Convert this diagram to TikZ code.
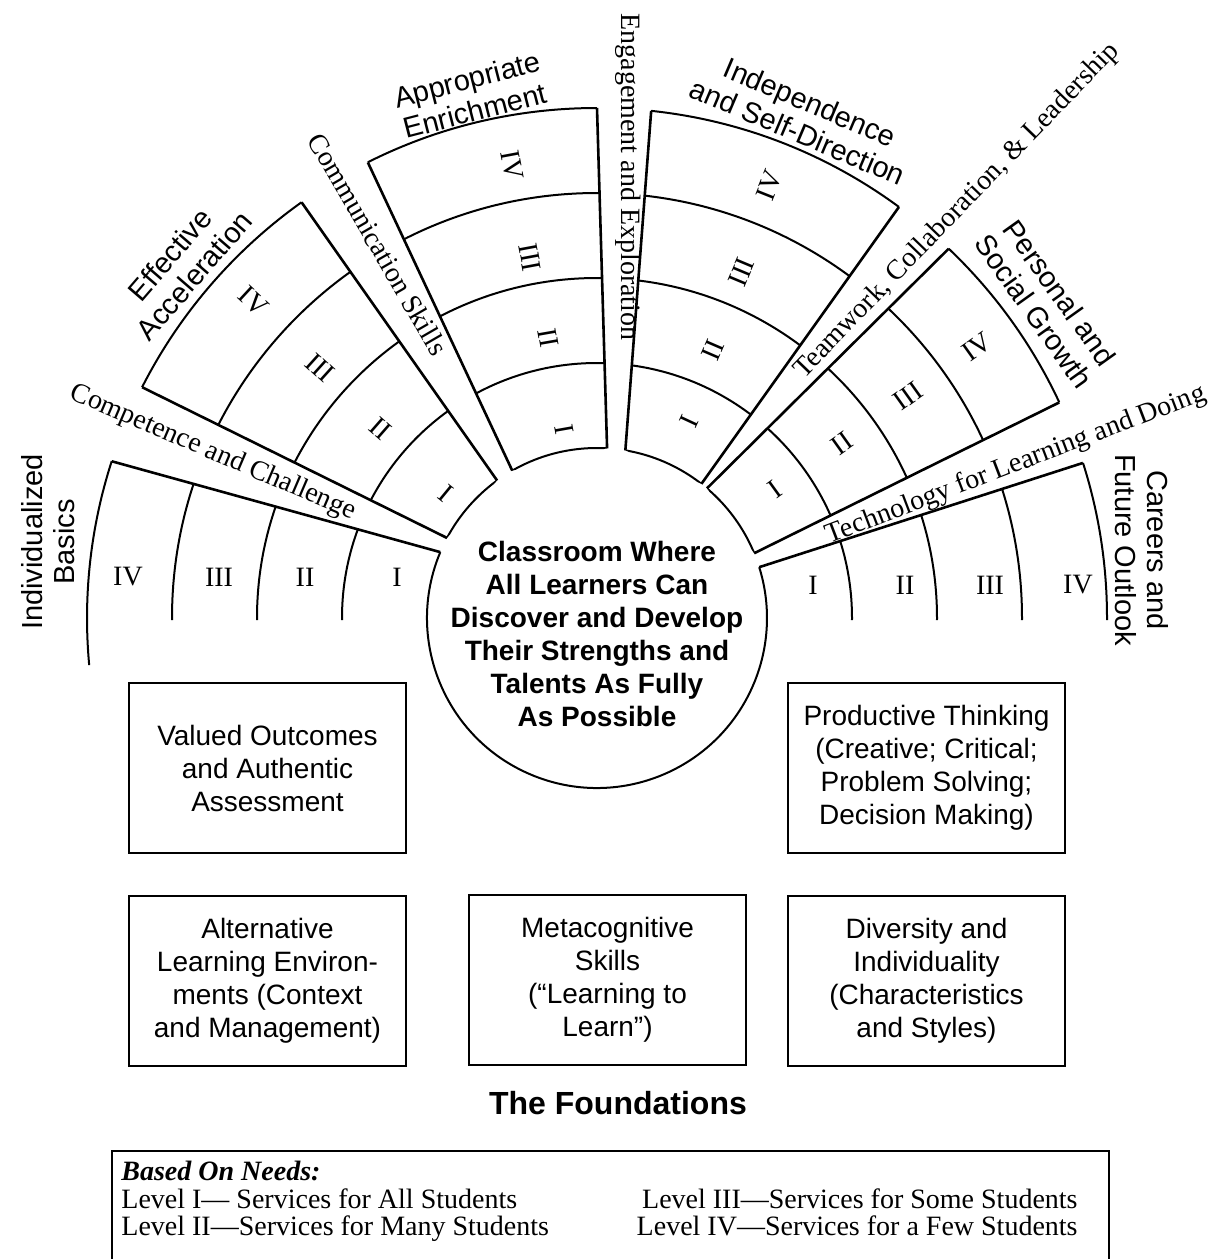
\documentclass[tikz,border=0pt]{standalone}
\usepackage{fontspec}
\setmainfont{Liberation Serif}
\setsansfont{Liberation Sans}
\usetikzlibrary{calc}
\tikzset{
 fanedge/.style={line width=1.3pt},
 ring/.style={line width=1pt},
 rom/.style={font=\fontsize{14}{14}\selectfont, inner sep=0pt},
 gaplbl/.style={font=\fontsize{14}{14}\selectfont, inner sep=0pt},
 ttl/.style={font=\sffamily\fontsize{14.5}{16}\selectfont, align=center, inner sep=0pt},
 foundbox/.style={draw, line width=1pt, minimum width=138.5pt, minimum height=85pt, align=center, font=\sffamily\fontsize{14}{16.5}\selectfont, inner sep=0pt},
 legend/.style={font=\fontsize{14}{14}\selectfont, inner sep=0pt},
}
\newcommand\fansector[4]{%
 \begin{scope}
  \coordinate (sa) at ($(C)+(#1:170)$);
  \coordinate (sb) at ($(C)+(#2:510)$);
  \coordinate (sc) at ($(C)+(#4:510)$);
  \coordinate (sd) at ($(C)+(#3:170)$);
  \clip (sa) -- ($(sa)!1.6!(sb)$) -- ($(sd)!1.6!(sc)$) -- (sd) -- cycle;
  \foreach \rr in {170,255,340,425,510} \draw[ring] (C) circle[radius=\rr];
 \end{scope}
 \draw[fanedge] ($(C)+(#1:170)$) -- ($(C)+(#2:510)$);
 \draw[fanedge] ($(C)+(#3:170)$) -- ($(C)+(#4:510)$);
}
\begin{document}
\begin{tikzpicture}[x=0.5pt,y=0.5pt]
\useasboundingbox (0,0) rectangle (1208,-1259);
\coordinate (C) at (597,-618);

% central circle (lower part) 
\draw[ring] ($(C)+(157.2:170)$) arc[start angle=157.2, end angle=377.4, radius=170];

% left sector: Individualized Basics
\begin{scope}
 \coordinate (la) at ($(C)+(157.2:170)$);
 \coordinate (lb) at ($(C)+(162.1:510)$);
 \clip (la) -- ($(la)!1.6!(lb)$) -- (-200,-620) -- (597,-620) -- cycle;
 \foreach \rr in {255,340,425} \draw[ring] (C) circle[radius=\rr];
\end{scope}
\draw[ring] ($(C)+(162.1:510)$) arc[start angle=162.1, end angle=185.3, radius=510];
\draw[fanedge] (la) -- (lb);

% right sector: Careers
\begin{scope}
 \coordinate (ra) at ($(C)+(17.4:170)$);
 \coordinate (rb) at ($(C)+(17.7:510)$);
 \clip (ra) -- ($(ra)!1.6!(rb)$) -- (1500,-620) -- (597,-620) -- cycle;
 \foreach \rr in {255,340,425,510} \draw[ring] (C) circle[radius=\rr];
\end{scope}
\draw[fanedge] (ra) -- (rb);

% upper sectors
\fansector{151.9}{153.1}{126}{125.4}
\fansector{119.9}{116.7}{86.6}{90}
\fansector{80.4}{83.9}{52.1}{53.7}
\fansector{49.7}{46.4}{22.4}{25.0}

% numerals
\node[rom] (nL4) at (128,-577) {IV};
\node[rom] (nL3) at (219,-577) {III};
\node[rom] (nL2) at (305,-577) {II};
\node[rom] (nL1) at (397,-577) {I};
\node[rom] (nR1) at (813,-585) {I};
\node[rom] (nR2) at (905,-585) {II};
\node[rom] (nR3) at (990,-585) {III};
\node[rom] (nR4) at (1078,-585) {IV};
\foreach \ang/\rad/\txt [count=\i] in {137.3/467/IV,137.9/373/III,138.8/288/II,140.6/196/I}
  \node[rom, rotate=\ang-180] (nA\i) at ($(C)+(\ang:\rad)$) {\txt};
\foreach \ang/\rad/\txt [count=\i] in {100.6/461/IV,100.5/367/III,99.9/284/II,100/191/I}
  \node[rom, rotate=\ang-180] (nE\i) at ($(C)+(\ang:\rad)$) {\txt};
\foreach \ang/\rad/\txt [count=\i] in {68.3/466/IV,67.3/375/III,66.6/292/II,65/217/I}
  \node[rom, rotate=\ang] (nI\i) at ($(C)+(\ang:\rad)$) {\txt};
\foreach \ang/\rad/\txt [count=\i] in {35.5/467/IV,35.5/382/III,35.5/301/II,35.9/220/I}
  \node[rom, rotate=\ang] (nP\i) at ($(C)+(\ang:\rad)$) {\txt};

% sector titles
\node[ttl, rotate=90] (tIB) at (48,-542) {Individualized\\Basics};
\node[ttl, rotate=49.2] (tEA) at (182,-265) {Effective\\Acceleration};
\node[ttl, rotate=14.5] (tAE) at (471,-95) {Appropriate\\Enrichment};
\node[ttl, rotate=-23] (tID) at (804,-117) {Independence\\and Self-Direction};
\node[ttl, rotate=-54.5] (tPS) at (1047,-302) {Personal and\\Social Growth};
\node[ttl, rotate=-90] (tCF) at (1142,-550) {Careers and\\Future Outlook};

% gap labels
\node[gaplbl, rotate=-23.2] (gCC) at (213,-453) {Competence and Challenge};
\node[gaplbl, rotate=-60] (gCS) at (378,-244) {Communication Skills};
\node[gaplbl, rotate=-90] (gEE) at (628,-177) {Engagement and Exploration};
\node[gaplbl, rotate=46] (gTC) at (957,-211) {Teamwork, Collaboration, \& Leadership};
\node[gaplbl, rotate=20.9] (gTL) at (1016,-465) {Technology for Learning and Doing};

% centre text
\node[font=\sffamily\bfseries\fontsize{14}{16.5}\selectfont, align=center, inner sep=0pt] (ctr) at (597,-634)
 {Classroom Where\\All Learners Can\\Discover and Develop\\Their Strengths and\\Talents As Fully\\As Possible};

% foundation boxes
\node[foundbox] (bVO) at (267.5,-768) {Valued Outcomes\\and Authentic\\Assessment};
\node[foundbox] (bPT) at (926.5,-768) {Productive Thinking\\(Creative; Critical;\\Problem Solving;\\Decision Making)};
\node[foundbox] (bAL) at (267.5,-981) {Alternative\\Learning Environ-\\ments (Context\\and Management)};
\node[foundbox] (bMS) at (607.5,-980) {Metacognitive\\Skills\\(“Learning to\\Learn”)};
\node[foundbox] (bDI) at (926.5,-981) {Diversity and\\Individuality\\(Characteristics\\and Styles)};

\node[font=\sffamily\bfseries\fontsize{16}{16}\selectfont, inner sep=0pt] (fnd) at (618,-1103) {The Foundations};

% legend
\draw[line width=1pt] (112,-1265) -- (112,-1151) -- (1109,-1151) -- (1109,-1265);
\node[legend, anchor=base west, font=\bfseries\itshape\fontsize{14}{14}\selectfont] (lg0) at (121,-1180) {Based On Needs:};
\node[legend, anchor=base west] (lg1) at (121,-1208) {Level I— Services for All Students};
\node[legend, anchor=base west] (lg2) at (121,-1235) {Level II—Services for Many Students};
\node[legend, anchor=base east] (lg3) at (1078,-1208) {Level III—Services for Some Students};
\node[legend, anchor=base east] (lg4) at (1078,-1235) {Level IV—Services for a Few Students};
\end{tikzpicture}
\end{document}
